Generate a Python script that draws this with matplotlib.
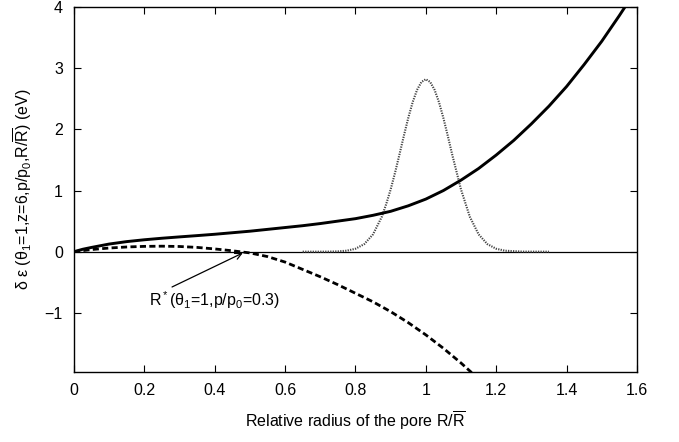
import matplotlib
matplotlib.use("Agg")
import matplotlib.pyplot as plt

plt.rcParams['font.family'] = ['Liberation Sans', 'DejaVu Sans']
plt.rcParams['mathtext.fontset'] = 'custom'
plt.rcParams['mathtext.rm'] = 'Liberation Sans'
plt.rcParams['mathtext.it'] = 'Liberation Sans:italic'
plt.rcParams['axes.unicode_minus'] = True

# Solid curve: delta epsilon (theta1=1, z=6)
x_solid = [0, 0.025, 0.05, 0.1, 0.15, 0.2, 0.25, 0.3, 0.35, 0.4, 0.45, 0.5, 0.55,
           0.6, 0.65, 0.7, 0.75, 0.8, 0.85, 0.9, 0.95, 1.0, 1.05, 1.1, 1.15,
           1.2, 1.25, 1.3, 1.35, 1.4, 1.45, 1.5, 1.55, 1.6]
y_solid = [0, 0.04, 0.07, 0.125, 0.165, 0.195, 0.22, 0.242, 0.263, 0.285, 0.31, 0.335, 0.365,
           0.395, 0.425, 0.46, 0.50, 0.54, 0.595, 0.66, 0.75, 0.86, 1.0, 1.17, 1.36,
           1.58, 1.82, 2.09, 2.38, 2.70, 3.06, 3.44, 3.86, 4.3]

# Dashed curve: p/p0 = 0.3
x_dash = [0, 0.05, 0.1, 0.15, 0.2, 0.25, 0.3, 0.35, 0.4, 0.45, 0.5, 0.55,
          0.6, 0.65, 0.7, 0.75, 0.8, 0.85, 0.9, 0.95, 1.0, 1.05, 1.1, 1.15]
y_dash = [0, 0.035, 0.06, 0.077, 0.087, 0.09, 0.085, 0.07, 0.045, 0.015, -0.02, -0.08,
          -0.17, -0.29, -0.41, -0.54, -0.68, -0.82, -0.98, -1.16, -1.36, -1.58, -1.82, -2.08]

# Dotted peak: pore size distribution (centred at R/Rbar = 1)
x_dist = [0.65, 0.7, 0.725, 0.75, 0.775, 0.8, 0.825, 0.85, 0.875, 0.8875, 0.9, 0.9125,
          0.925, 0.9375, 0.95, 0.9625, 0.975, 0.9875, 1.0, 1.0125, 1.025, 1.0375, 1.05,
          1.0625, 1.075, 1.1, 1.125, 1.15, 1.175, 1.2, 1.225, 1.275, 1.35]
y_dist = [0.0, 0.0, 0.001, 0.005, 0.016, 0.048, 0.124, 0.284, 0.572, 0.78, 1.017, 1.291,
          1.588, 1.893, 2.185, 2.443, 2.645, 2.775, 2.82, 2.775, 2.645, 2.443, 2.185,
          1.893, 1.588, 1.017, 0.572, 0.284, 0.124, 0.048, 0.016, 0.001, 0.0]

x_ticks = [0, 0.2, 0.4, 0.6, 0.8, 1.0, 1.2, 1.4, 1.6]
x_ticklabels = ['0', '0.2', '0.4', '0.6', '0.8', '1', '1.2', '1.4', '1.6']
y_ticks = [-1, 0, 1, 2, 3, 4]
y_ticklabels = ['\u22121', '0', '1', '2', '3', '4']

fig = plt.figure(figsize=(6.79, 4.42), dpi=100)
ax = fig.add_axes([0.109, 0.158, 0.829, 0.826])

ax.axhline(0, color='black', lw=0.9, zorder=1)
ax.plot(x_dist, y_dist, color='#444444', lw=1.5,
        linestyle=(0, (0.6, 0.6)), zorder=2)
ax.plot(x_solid, y_solid, color='black', lw=2.1, zorder=3)
ax.plot(x_dash, y_dash, color='black', lw=2.0, linestyle=(0, (2.2, 1.2)), zorder=3)

ax.annotate('R$^*$(\u03b8$_1$=1,p/p$_0$=0.3)', xy=(0.48, -0.02), xytext=(0.40, -0.80),
            fontsize=11.5, ha='center', va='center',
            arrowprops=dict(arrowstyle='->', color='black', lw=0.9,
                            shrinkA=0, shrinkB=0, relpos=(0.13, 1.0)))

ax.set_xlim(0, 1.6)
ax.set_ylim(-1.97, 4.0)
ax.set_xticks(x_ticks)
ax.set_xticklabels(x_ticklabels)
ax.set_yticks(y_ticks)
ax.set_yticklabels(y_ticklabels)
ax.tick_params(direction='in', top=True, right=True, length=5, width=0.8,
               labelsize=11.5, pad=8, colors='black')
for s in ax.spines.values():
    s.set_linewidth(1.0)

ax.set_xlabel('Relative radius of the pore R/$\\overline{\\mathrm{R}}$', fontsize=11.5, labelpad=8)
ax.set_ylabel('\u03b4 \u03b5 (\u03b8$_1$=1,z=6,p/p$_0$,R/$\\overline{\\mathrm{R}}$) (eV)',
              fontsize=11.5, labelpad=8)

fig.savefig('out.png', dpi=100)
